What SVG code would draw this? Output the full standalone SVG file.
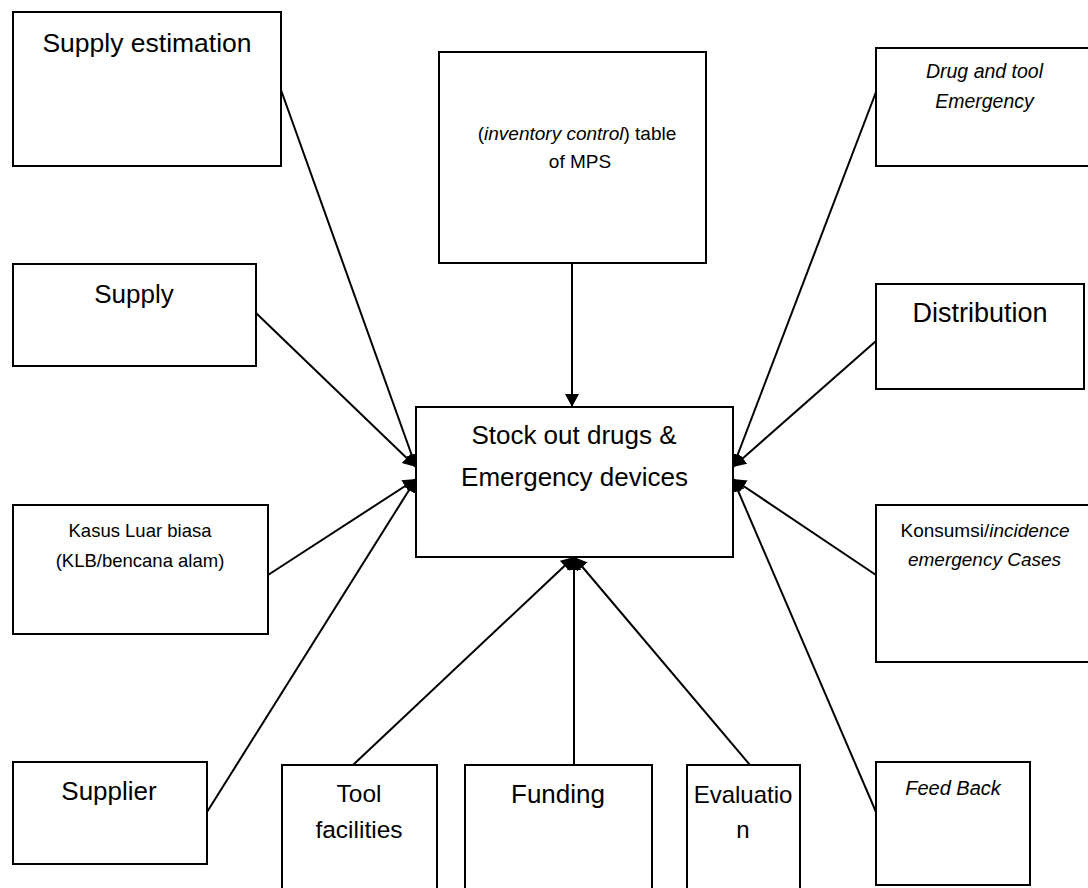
<svg xmlns="http://www.w3.org/2000/svg" width="1088" height="888" viewBox="0 0 1088 888">
  <style>
    .box { fill: #ffffff; stroke: #000000; stroke-width: 2; }
    .t { font-family: "Liberation Sans", Arial, sans-serif; fill: #000000; text-anchor: middle; }
    .it { font-style: italic; }
    .conn { stroke: #000000; stroke-width: 2; fill: none; marker-end: url(#arrow); }
    .plain { stroke: #000000; stroke-width: 2; fill: none; }
  </style>
  <defs>
    <marker id="arrow" markerUnits="userSpaceOnUse" markerWidth="16" markerHeight="16" refX="13" refY="7" orient="auto">
      <path d="M0,0 L13,7 L0,14 Z" fill="#000000"/>
    </marker>
  </defs>
  <rect x="0" y="0" width="1088" height="888" fill="#ffffff"/>

  <g id="connectors">
    <line class="conn" x1="281" y1="90" x2="416" y2="467"/>
    <line class="conn" x1="256" y1="313" x2="416" y2="467"/>
    <line class="conn" x1="268" y1="575" x2="416" y2="479"/>
    <line class="conn" x1="207" y1="812" x2="416" y2="479"/>
    <line class="conn" x1="876" y1="92" x2="733" y2="467"/>
    <line class="conn" x1="876" y1="341" x2="733" y2="467"/>
    <line class="conn" x1="876" y1="575" x2="733" y2="479"/>
    <line class="conn" x1="876" y1="812" x2="733" y2="479"/>
    <line class="conn" x1="572" y1="263" x2="572" y2="407"/>
    <line class="conn" x1="353" y1="765" x2="574" y2="557"/>
    <line class="conn" x1="574" y1="765" x2="574" y2="557"/>
    <line class="conn" x1="750" y1="765" x2="574" y2="557"/>
  </g>

  <g id="supply-estimation">
    <rect class="box" x="13" y="12" width="268" height="154"/>
    <text class="t" x="147" y="52" font-size="26.5">Supply estimation</text>
  </g>

  <g id="inventory-control">
    <rect class="box" x="439" y="52" width="267" height="211"/>
    <text class="t" x="577" y="140" font-size="19">(<tspan class="it">inventory control</tspan>) table</text>
    <text class="t" x="580" y="168" font-size="19">of MPS</text>
  </g>

  <g id="drug-tool-emergency">
    <rect class="box" x="876" y="48" width="230" height="118"/>
    <text class="t it" x="984.5" y="78" font-size="19.5">Drug and tool</text>
    <text class="t it" x="984.5" y="108" font-size="19.5">Emergency</text>
  </g>

  <g id="supply">
    <rect class="box" x="13" y="264" width="243" height="102"/>
    <text class="t" x="134" y="303" font-size="26">Supply</text>
  </g>

  <g id="distribution">
    <rect class="box" x="876" y="284" width="208" height="105"/>
    <text class="t" x="980" y="322" font-size="27">Distribution</text>
  </g>

  <g id="stock-out">
    <rect class="box" x="416" y="407" width="317" height="150"/>
    <text class="t" x="574" y="444" font-size="26">Stock out drugs &amp;</text>
    <text class="t" x="574.5" y="486" font-size="26">Emergency devices</text>
  </g>

  <g id="kasus-luar-biasa">
    <rect class="box" x="13" y="505" width="255" height="129"/>
    <text class="t" x="140" y="537" font-size="18.5">Kasus Luar biasa</text>
    <text class="t" x="140" y="567" font-size="18.5">(KLB/bencana alam)</text>
  </g>

  <g id="konsumsi">
    <rect class="box" x="876" y="505" width="230" height="157"/>
    <text class="t" x="985" y="537" font-size="19">Konsumsi/<tspan class="it">incidence</tspan></text>
    <text class="t it" x="984.5" y="566" font-size="19">emergency Cases</text>
  </g>

  <g id="supplier">
    <rect class="box" x="13" y="762" width="194" height="102"/>
    <text class="t" x="109" y="800" font-size="26">Supplier</text>
  </g>

  <g id="tool-facilities">
    <rect class="box" x="282" y="765" width="155" height="140"/>
    <text class="t" x="359" y="802" font-size="24.5">Tool</text>
    <text class="t" x="359" y="838" font-size="24.5">facilities</text>
  </g>

  <g id="funding">
    <rect class="box" x="465" y="765" width="187" height="140"/>
    <text class="t" x="558" y="803" font-size="26">Funding</text>
  </g>

  <g id="evaluation">
    <rect class="box" x="687" y="765" width="113" height="140"/>
    <text class="t" x="743" y="803" font-size="24">Evaluatio</text>
    <text class="t" x="743" y="838" font-size="24">n</text>
  </g>

  <g id="feed-back">
    <rect class="box" x="876" y="762" width="154" height="123"/>
    <text class="t it" x="953" y="795" font-size="20">Feed Back</text>
  </g>
</svg>
